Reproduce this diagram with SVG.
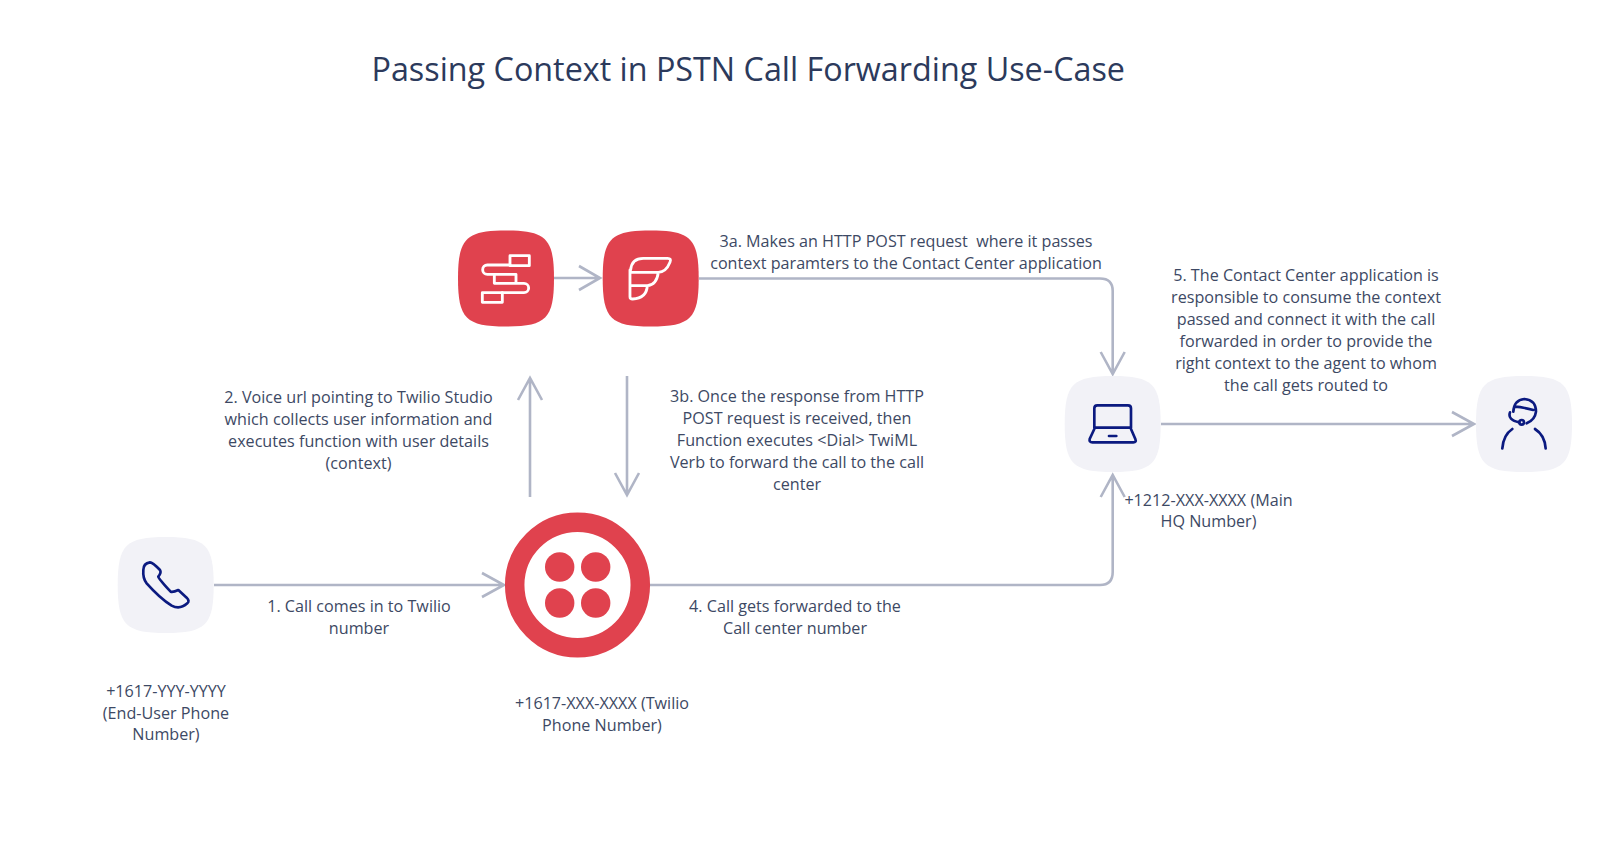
<svg xmlns="http://www.w3.org/2000/svg" width="1600" height="866" viewBox="0 0 1600 866">
<style>
text{font-family:"Open Sans","Noto Sans",sans-serif;fill:#3d4964;font-size:16.15px;text-anchor:middle;white-space:pre}
.title{font-size:32.3px;fill:#2c3a5c;text-anchor:start}
.c{fill:none;stroke:#b0b5c6;stroke-width:2.6}
.w{fill:none;stroke:#fff;stroke-width:8.5;stroke-linejoin:round;stroke-linecap:round}
.n{fill:none;stroke:#0b1a80;stroke-width:8;stroke-linejoin:round;stroke-linecap:round}
.red{fill:#e0424e}
.gray{fill:#f2f2f7}
</style>
<defs>
<path id="sq" d="M-48 0C-48-40-40-48 0-48C40-48 48-40 48 0C48 40 40 48 0 48C-40 48-48 40-48 0Z"/>
</defs>
<rect width="1600" height="866" fill="#fff"/>
<text class="title" x="371.500" y="81">Passing Context in PSTN Call Forwarding Use-Case</text>
<g id="connectors">
<path class="c" d="M214 585H504M482 573L504 585L482 597"/>
<path class="c" d="M554 278H600M579 266L600 278L579 290"/>
<path class="c" d="M699 278.500H1100Q1112.700 278.500 1112.700 291V374M1100.700 352L1112.700 374L1124.700 352"/>
<path class="c" d="M530 497V378M518 400L530 378L542 400"/>
<path class="c" d="M627 376V495M615 473L627 495L639 473"/>
<path class="c" d="M650 585H1100Q1112.700 585 1112.700 572V475M1100.700 497L1112.700 475L1124.700 497"/>
<path class="c" d="M1161 424H1474M1452 412L1474 424L1452 436"/>
</g>
<g id="node-studio"><use href="#sq" x="506" y="278.500" class="red"/>
<g transform="translate(440 215) scale(.3333)"><path class="w" d="M210 150H142a14 14 0 0 0 0 28H228V205H163V178M228 205H252a14 14 0 0 1 0 28H187"/><rect class="w" x="127" y="233" width="60" height="29"/><rect class="w" x="210" y="122" width="58" height="30"/></g></g>
<g id="node-function"><use href="#sq" x="650.700" y="278.500" class="red"/>
<g transform="translate(440 215) scale(.3333)"><path class="w" d="M572 165Q575 130 610 130H683Q695 130 690 142Q678 172 655 172Q650 210 622 212Q620 250 578 252Q570 252 570 245V165M572 172H655M572 212H622"/></g></g>
<g id="node-phone"><use href="#sq" x="165.700" y="585" class="gray"/>
<g transform="translate(100 515) scale(.3333)"><path class="n" d="M130 165Q130 145 150 142Q158 142 180 165Q185 172 175 185Q175 190 212 230Q220 232 235 225L260 248Q270 258 262 265Q240 285 215 272Q180 250 140 205Q128 190 130 165Z"/></g></g>
<g id="node-twilio"><circle cx="577.500" cy="585" r="62.800" fill="#fff" stroke="#e0424e" stroke-width="19.500"/>
<circle class="red" cx="559.700" cy="567" r="14.700"/><circle class="red" cx="595.700" cy="567" r="14.700"/><circle class="red" cx="559.700" cy="603" r="14.700"/><circle class="red" cx="595.700" cy="603" r="14.700"/></g>
<g id="node-laptop"><use href="#sq" x="1112.700" y="424" class="gray"/>
<g transform="translate(1030 355) scale(.3333)"><path class="n" d="M193 218V160Q193 151 202 151H294Q303 151 303 160V218ZM193 222L179 252Q177 262 187 262H310Q320 262 316 252L303 222M237 243H259"/></g></g>
<g id="node-agent"><use href="#sq" x="1524" y="424" class="gray"/>
<g transform="translate(1430 355) scale(.3333)"><path class="n" d="M250 170Q252 135 283 132Q318 135 318 170Q315 195 290 205M255 155Q280 157 310 165M240 172Q232 195 268 202M217 280Q220 240 247 222M347 280Q344 240 315 222"/><circle class="n" cx="275" cy="202" r="7"/></g></g>
<g id="labels">
<text><tspan x="906" y="247">3a. Makes an HTTP POST request  where it passes</tspan><tspan x="906" y="269">context paramters to the Contact Center application</tspan></text>
<text><tspan x="1306" y="281">5. The Contact Center application is</tspan><tspan x="1306" y="303">responsible to consume the context</tspan><tspan x="1306" y="325">passed and connect it with the call</tspan><tspan x="1306" y="347">forwarded in order to provide the</tspan><tspan x="1306" y="369">right context to the agent to whom</tspan><tspan x="1306" y="391">the call gets routed to</tspan></text>
<text><tspan x="358.500" y="403">2. Voice url pointing to Twilio Studio</tspan><tspan x="358.500" y="425">which collects user information and</tspan><tspan x="358.500" y="447">executes function with user details</tspan><tspan x="358.500" y="469">(context)</tspan></text>
<text><tspan x="797" y="402">3b. Once the response from HTTP</tspan><tspan x="797" y="424">POST request is received, then</tspan><tspan x="797" y="446">Function executes &lt;Dial&gt; TwiML</tspan><tspan x="797" y="468">Verb to forward the call to the call</tspan><tspan x="797" y="490">center</tspan></text>
<text><tspan x="1208.500" y="506">+1212-XXX-XXXX (Main</tspan><tspan x="1208.500" y="527">HQ Number)</tspan></text>
<text><tspan x="359" y="612">1. Call comes in to Twilio</tspan><tspan x="359" y="634">number</tspan></text>
<text><tspan x="795" y="612">4. Call gets forwarded to the</tspan><tspan x="795" y="634">Call center number</tspan></text>
<text><tspan x="602" y="709">+1617-XXX-XXXX (Twilio</tspan><tspan x="602" y="731">Phone Number)</tspan></text>
<text><tspan x="166" y="697">+1617-YYY-YYYY</tspan><tspan x="166" y="719">(End-User Phone</tspan><tspan x="166" y="740">Number)</tspan></text>
</g>
</svg>
